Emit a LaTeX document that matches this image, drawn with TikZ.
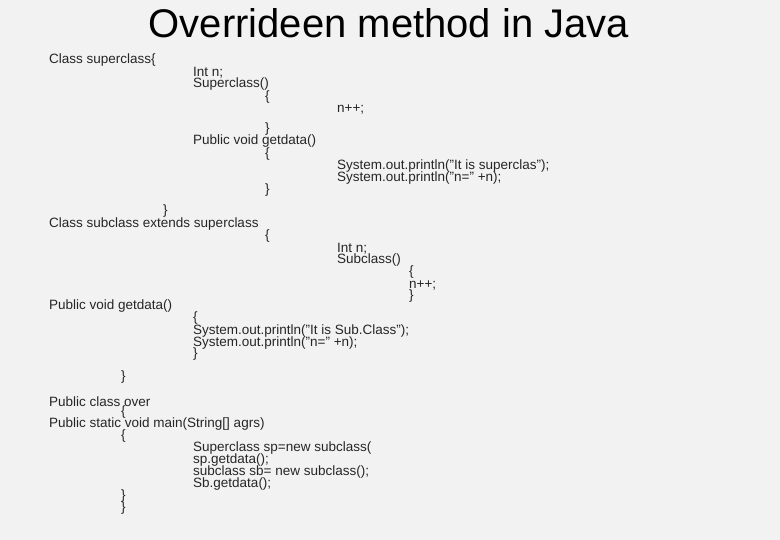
\documentclass[tikz,border=0pt]{standalone}
\usepackage{fontspec}
\setmainfont{Liberation Sans}
\begin{document}
\begin{tikzpicture}[x=1pt,y=-1pt,
  t/.style={anchor=west,inner sep=0pt,font=\fontsize{13.5}{13.5}\selectfont,text=black!85,yshift=-1.5pt}]
\useasboundingbox[fill=black!5] (0,0) rectangle (780,540);
\node[inner sep=0pt,font=\fontsize{40}{40}\selectfont] (title) at (389,23) {Overrideen method in Java};
\node[t] (l1) at (49,59) {Class superclass\{};
\node[t] (l2) at (193,71) {Int n;};
\node[t] (l3) at (193,83) {Superclass()};
\node[t] (l4) at (265,96) {\{};
\node[t] (l5) at (337,108) {n++;};
\node[t] (l6) at (265,128) {\}};
\node[t] (l7) at (193,140) {Public void getdata()};
\node[t] (l8) at (265,153) {\{};
\node[t] (l9) at (337,165) {System.out.println("It is superclas");};
\node[t] (l10) at (337,177) {System.out.println("n=" +n);};
\node[t] (l11) at (265,189) {\}};
\node[t] (l12) at (163,210) {\}};
\node[t] (l13) at (49,223) {Class subclass extends superclass};
\node[t] (l14) at (265,235) {\{};
\node[t] (l15) at (337,247) {Int n;};
\node[t] (l16) at (337,259) {Subclass()};
\node[t] (l17) at (409,271) {\{};
\node[t] (l18) at (409,284) {n++;};
\node[t] (l19) at (409,295) {\}};
\node[t] (l20) at (49,305) {Public void getdata()};
\node[t] (l21) at (193,317) {\{};
\node[t] (l22) at (193,330) {System.out.println("It is Sub.Class");};
\node[t] (l23) at (193,342) {System.out.println("n=" +n);};
\node[t] (l24) at (193,353) {\}};
\node[t] (l25) at (121,376) {\}};
\node[t] (l26) at (49,400) {Public class over};
\node[t] (l27) at (121,411) {\{};
\node[t] (l28) at (49,423) {Public static void main(String[] agrs)};
\node[t] (l29) at (121,435) {\{};
\node[t] (l30) at (193,447) {Superclass sp=new subclass(};
\node[t] (l31) at (193,459) {sp.getdata();};
\node[t] (l32) at (193,471) {subclass sb= new subclass();};
\node[t] (l33) at (193,483) {Sb.getdata();};
\node[t] (l34) at (121,495) {\}};
\node[t] (l35) at (121,507) {\}};
\end{tikzpicture}
\end{document}
